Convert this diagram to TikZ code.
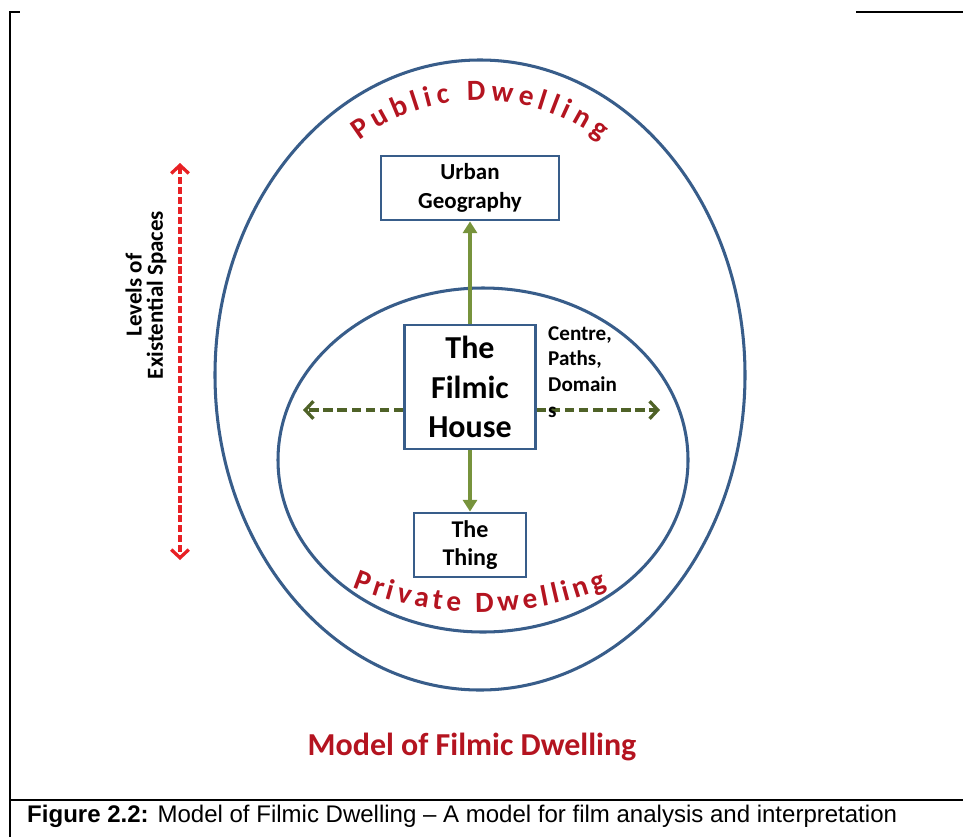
\documentclass[tikz,border=0pt]{standalone}
\usepackage{fontspec}
\setmainfont{Carlito}
\newfontfamily\capfont{Liberation Sans}
\usetikzlibrary{arrows.meta, decorations.text}

\definecolor{ringblue}{RGB}{56,93,138}
\definecolor{leafgreen}{RGB}{119,147,60}
\definecolor{olivegreen}{RGB}{79,98,40}
\definecolor{levelred}{RGB}{232,32,36}
\definecolor{dwellred}{RGB}{180,20,32}

\begin{document}
\begin{tikzpicture}[x=0.03cm, y=-0.03cm]
    \tikzstyle{box}=[draw=ringblue, line width=2.4pt, fill=white, align=center, inner sep=0pt]
    \tikzstyle{ring}=[draw=ringblue, line width=2.6pt]
    \tikzstyle{frame}=[line width=1.8pt]
    \tikzstyle{flow}=[-{Triangle[length=10pt,width=12pt]}, leafgreen, line width=2.8pt]
    \tikzstyle{spread}=[-{Straight Barb[length=7pt,width=15pt]}, olivegreen, line width=2.8pt, dash pattern=on 8pt off 4pt]
    \tikzstyle{level}=[{Straight Barb[length=7pt,width=15pt]}-{Straight Barb[length=7pt,width=15pt]}, levelred, line width=2.8pt, dash pattern=on 6pt off 2.5pt]

    \def\arcfont{\bfseries\fontsize{25}{30}\selectfont}

    \useasboundingbox (0,0) rectangle (963,837);

    % frame
    \draw[frame] (10,837) -- (10,12) -- (20,12);
    \draw[frame] (856,12) -- (963,12);
    \draw[frame] (10,800) -- (963,800);

    % dwellings
    \draw[ring] (480,375) ellipse [x radius=265, y radius=315];
    \draw[ring] (483,460) ellipse [x radius=205, y radius=172];

    \node[box, minimum width=5.34cm, minimum height=1.92cm, font=\bfseries\fontsize{19.6}{25}\selectfont] (urban) at (470,188) {Urban\\Geography};
    \node[box, minimum width=3.93cm, minimum height=3.72cm, font=\bfseries\fontsize{27.3}{34}\selectfont] (house) at (470,387) {The\\Filmic\\House};
    \node[box, minimum width=3.36cm, minimum height=1.92cm, font=\bfseries\fontsize{20.5}{24}\selectfont] (thing) at (470,545) {The\\Thing};

    \coordinate (west) at (303,410);
    \coordinate (east) at (660,410);
    \coordinate (upper) at (180,163);
    \coordinate (lower) at (180,560);

    \draw[flow] (house.north) -- (urban.south);
    \draw[flow] (house.south) -- (thing.north);
    \draw[spread] (house.west |- west) -- (west);
    \draw[spread] (house.east |- east) -- (east);
    \draw[level] (upper) -- (lower);

    \node[anchor=north west, align=left, inner sep=0pt, font=\bfseries\fontsize{18}{22}\selectfont] (paths) at (548,326) {Centre,\\Paths,\\Domain\\s};
    \node[rotate=90, align=center, inner sep=0pt, font=\bfseries\fontsize{19.6}{18}\selectfont] (levels) at (146,295) {Levels of\\Existential Spaces};

    % arched titles
    \coordinate (pubstart) at (359.6,140.3);
    \coordinate (privstart) at (352.6,587.2);
    \path[decorate, decoration={text along path, text={|\arcfont|Public Dwelling}, text color=dwellred, text align={fit to path}}]
        (pubstart) arc[start angle=-127, end angle=-53, radius=200];
    \path[decorate, decoration={text along path, text={|\arcfont|Private Dwelling}, text color=dwellred, text align={fit to path}}]
        (privstart) arc[start angle=-248, end angle=-292, radius=340];

    \node[text=dwellred, font=\bfseries\fontsize{27.3}{32}\selectfont] (model) at (472,747) {Model of Filmic Dwelling};
    \node[anchor=base west, inner sep=0pt, font=\capfont\fontsize{20.5}{24}\selectfont] (caption) at (27,822) {\textbf{Figure 2.2:} Model of Filmic Dwelling – A model for film analysis and interpretation};

\end{tikzpicture}
\end{document}
